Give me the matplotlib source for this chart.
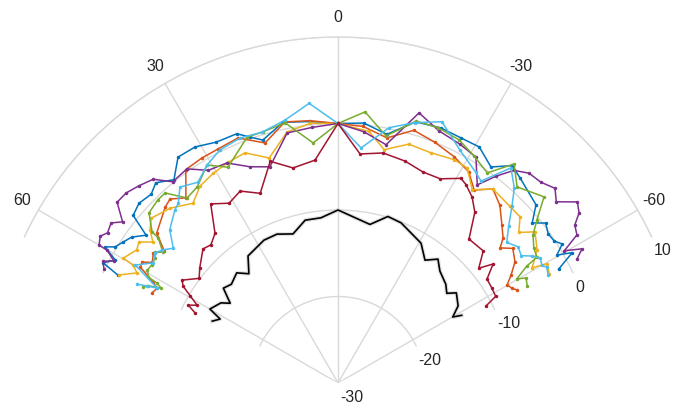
import numpy as np
import matplotlib.pyplot as plt
import matplotlib.patheffects as pe

# Angles in degrees (positive = left of 0) and levels
blue_theta = [63.9, 62.9, 61.1, 59.7, 58.6, 56.7, 54.7, 52.4, 50.7, 47.9, 44.7, 42.3, 38.9, 35.3, 31.2, 26.8, 22.1, 19.7, 17.2, 11.9,
              6.1, 0, -5.7, -11.1, -16.6, -22.0, -26.7, -30.9, -35.3, -38.7, -41.6, -48.0, -50.5, -52.4, -54.6, -56.7, -58.2, -59.7, -60.9, -62.7]
blue_r = [-1.7, 0.5, -0.6, 1.2, 0.2, -0.3, -0.8, -2.0, 0.6, 1.0, 0.7, 1.3, 0.2, 2.0, 1.9, 1.2, 1.1, 0.2, -0.6, 0.8,
          0.4, 0.0, 0.2, -0.7, 1.5, 1.8, 1.7, 1.8, 0.6, 2.2, 1.7, 0.8, -0.9, 0.3, -0.2, -0.1, 0.5, -0.7, 1.0, -1.3]

orange_theta = [64.2, 62.3, 61.4, 59.6, 58.3, 57.0, 54.9, 52.8, 50.4, 44.5, 42.4, 39.4, 35.5, 31.2, 27.2, 22.2, 16.9, 11.5, 6.1,
                0, -5.6, -11.3, -16.7, -21.9, -27.2, -31.8, -35.2, -38.6, -42.3, -46.1, -48.7, -50.2, -52.4, -55.6, -58.0, -59.9, -61.4, -62.5]
orange_r = [-6.1, -6.4, -5.6, -3.5, -3.4, -4.4, -3.9, -4.8, -2.8, -1.5, -1.2, -2.3, 0.3, 0.4, 0.4, 0.6, -1.0, 0.8, 0.5,
            0.0, -0.2, -1.1, 0.5, 0.0, -0.6, -1.3, -2.7, -1.3, -2.2, -3.7, -4.6, -5.6, -4.5, -5.2, -6.4, -7.4, -7.1, -6.7]

yellow_theta = [63.7, 61.3, 60.1, 59.8, 56.5, 54.7, 52.7, 50.9, 48.6, 43.8, 38.9, 35.0, 30.8, 26.5, 22.0, 17.0, 11.5, 6.1,
                0, -7.0, -11.2, -16.5, -22.0, -27.5, -31.0, -34.8, -38.6, -44.2, -47.6, -50.2, -52.5, -56.2, -59.3, -60.3, -62.7]
yellow_r = [-1.8, -3.5, -2.7, -1.3, -2.1, -1.8, -3.1, -2.0, -1.2, -2.0, -3.3, -2.2, -1.8, -1.5, -1.3, -2.8, -0.4, 0.2,
            0.0, -0.7, -2.5, -1.2, -1.3, -0.9, -1.0, -2.8, -1.3, -1.5, -1.5, -2.8, -1.3, -2.3, -3.9, -2.2, -2.5]

purple_theta = [64.0, 62.6, 61.4, 60.1, 60.0, 58.3, 56.9, 54.8, 53.2, 50.7, 48.1, 45.3, 42.2, 39.4, 35.2, 31.4, 26.8, 22.2, 17.5, 11.5, 5.8,
                0, -5.9, -11.4, -16.7, -21.8, -27.0, -31.4, -35.1, -37.4, -39.6, -42.3, -45.3, -48.1, -50.3, -52.9, -54.8, -56.3, -58.2, -59.7, -61.2, -62.6]
purple_r = [0.1, 0.6, -0.5, 0.8, 1.9, 2.3, 1.8, 2.1, 1.1, 3.0, 2.9, 2.4, 1.8, 0.1, 0.3, -1.2, -1.5, -3.0, -3.8, -0.5, -0.3,
            0.0, -0.8, -1.9, 2.6, 1.4, 1.0, 0.6, -2.0, 0.1, 1.9, 2.8, 3.0, 3.7, 2.8, 4.7, 4.1, 2.9, 2.5, 0.3, 2.2, 1.1]

green_theta = [63.8, 62.9, 61.8, 61.1, 60.8, 59.4, 57.6, 55.7, 54.4, 53.2, 51.1, 50.9, 48.0, 44.5, 42.3, 39.2, 35.7, 31.0, 27.0, 20.3, 16.6, 11.5, 5.9,
               0, -5.7, -11.0, -16.6, -21.4, -26.5, -30.9, -35.4, -38.8, -42.4, -47.9, -50.7, -52.8, -55.4, -57.7, -58.2, -59.8, -60.8, -62.8]
green_r = [-4.9, -5.3, -6.8, -6.1, -4.9, -4.4, -4.5, -4.4, -4.0, -4.7, -3.3, -2.3, -0.6, -0.3, -0.3, -2.4, -2.1, -0.6, -2.0, 0.3, 0.3, 0.7, -2.1,
           0.0, 1.5, -0.9, 1.6, 1.7, 1.4, 0.6, -0.2, 2.5, 0.7, 2.1, -0.3, -1.7, -2.5, -2.8, -4.3, -6.1, -5.1, -5.4]

lblue_theta = [63.8, 63.1, 62.3, 59.8, 57.0, 54.6, 52.9, 50.7, 47.7, 43.3, 41.6, 38.9, 34.9, 31.0, 26.9, 21.8, 16.8, 11.4, 5.9,
               0, -5.6, -11.3, -16.5, -21.7, -27.6, -33.2, -35.3, -38.8, -42.1, -44.5, -47.4, -50.2, -52.9, -55.2, -56.8, -58.3, -60.0, -61.0, -62.8]
lblue_r = [-4.1, -5.2, -6.4, -2.9, -4.5, -4.1, -4.5, -5.4, -3.7, -2.5, -2.2, -0.9, -1.7, -0.6, 0.2, 0.5, 0.3, 1.0, 2.5,
           0.0, -2.7, 0.1, 1.4, 2.5, 0.4, -0.9, -1.4, 1.9, 0.4, -1.3, -3.2, -4.6, -3.9, -4.2, -3.2, -2.5, -2.8, -2.4, -2.7]

red_theta = [63.9, 62.5, 61.1, 59.5, 58.0, 56.6, 53.0, 50.2, 45.2, 42.6, 39.4, 35.4, 31.2, 27.0, 22.3, 17.0, 11.8, 5.9,
             0, -5.5, -11.1, -16.8, -21.9, -26.6, -31.0, -32.8, -35.8, -38.7, -42.3, -47.7, -50.8, -52.5, -55.1, -58.3, -61.2, -62.5]
red_r = [-11.6, -10.5, -11.4, -10.2, -8.9, -8.4, -9.9, -9.2, -8.0, -8.3, -7.6, -4.6, -5.7, -5.1, -6.3, -3.2, -4.6, -4.1,
         0.0, -3.4, -2.9, -3.2, -3.7, -3.6, -2.4, -2.7, -3.5, -4.7, -7.5, -7.3, -9.0, -7.4, -9.0, -9.1, -9.2, -10.7]

black_theta = [63.8, 61.5, 60.0, 55.6, 53.5, 50.4, 47.2, 42.6, 39.2, 35.3, 27.4, 22.3, 16.8, 11.4, 5.9,
               0, -11.4, -16.7, -21.5, -30.7, -35.3, -38.9, -42.3, -47.5, -50.5, -52.7, -57.3, -60.1, -61.3]
black_r = [-13.8, -14.5, -12.9, -13.6, -14.5, -12.8, -13.2, -12.7, -13.7, -12.0, -11.4, -11.4, -12.0, -10.8, -10.8,
           -10.0, -11.3, -9.9, -10.1, -11.2, -12.6, -11.6, -12.5, -13.1, -13.7, -12.8, -13.5, -14.7, -13.7]

theta_ticks = [-60, -30, 0, 30, 60]
r_ticks = [-30, -20, -10, 0, 10]

series = [
    (blue_theta, blue_r, '#0072BD'),
    (orange_theta, orange_r, '#D95319'),
    (yellow_theta, yellow_r, '#EDB120'),
    (purple_theta, purple_r, '#7E2F8E'),
    (green_theta, green_r, '#77AC30'),
    (lblue_theta, lblue_r, '#4DBEEE'),
    (red_theta, red_r, '#A2142F'),
]

plt.rcParams['font.family'] = ['Liberation Sans', 'DejaVu Sans']
text_color = '#262626'
grid_color = '#d9d9d9'

fig = plt.figure(figsize=(6.88, 4.12), dpi=100)
# wedge bbox is padded to a square by matplotlib, so the axes box is square
side = 627.2
ax = fig.add_axes([24.4 / 688, (412 - 523.6) / 412, side / 688, side / 412], projection='polar')
ax.set_theta_zero_location('N')
ax.set_theta_direction(1)
ax.set_thetamin(-65)
ax.set_thetamax(65)
ax.set_rlim(r_ticks[0], r_ticks[-1])

# grid and frame
ax.set_thetagrids(theta_ticks, labels=[str(t) for t in theta_ticks])
ax.set_rgrids(r_ticks, labels=[''] * len(r_ticks))
ax.grid(True, color=grid_color, linewidth=1.0)
ax.spines['polar'].set_edgecolor(grid_color)
ax.spines['polar'].set_linewidth(1.0)
# draw() turns the edge spines back on, so make them invisible by colour instead
for s in ['start', 'end', 'inner']:
    ax.spines[s].set_edgecolor('none')
    ax.spines[s].set_linewidth(0)
ax.tick_params(axis='x', pad=3.2, labelsize=11.5, labelcolor=text_color)
ax.tick_params(axis='y', length=0)

# radial labels along the right edge of the wedge
for v in r_ticks:
    ax.annotate(str(v), xy=(np.deg2rad(-65), v), xytext=(2, -14), textcoords='offset pixels',
                ha='left', va='center', fontsize=11.5, color=text_color, annotation_clip=False)

# traces
for th, r, c in series:
    ax.plot(np.deg2rad(th), r, color=c, linewidth=1.1, marker='.', markersize=3, clip_on=False)

ax.plot(np.deg2rad(black_theta), black_r, color='black', linewidth=1.2, clip_on=False,
        path_effects=[pe.Stroke(linewidth=3, foreground='#cfcfcf', alpha=0.6), pe.Normal()])

fig.savefig('out.png', dpi=100)
